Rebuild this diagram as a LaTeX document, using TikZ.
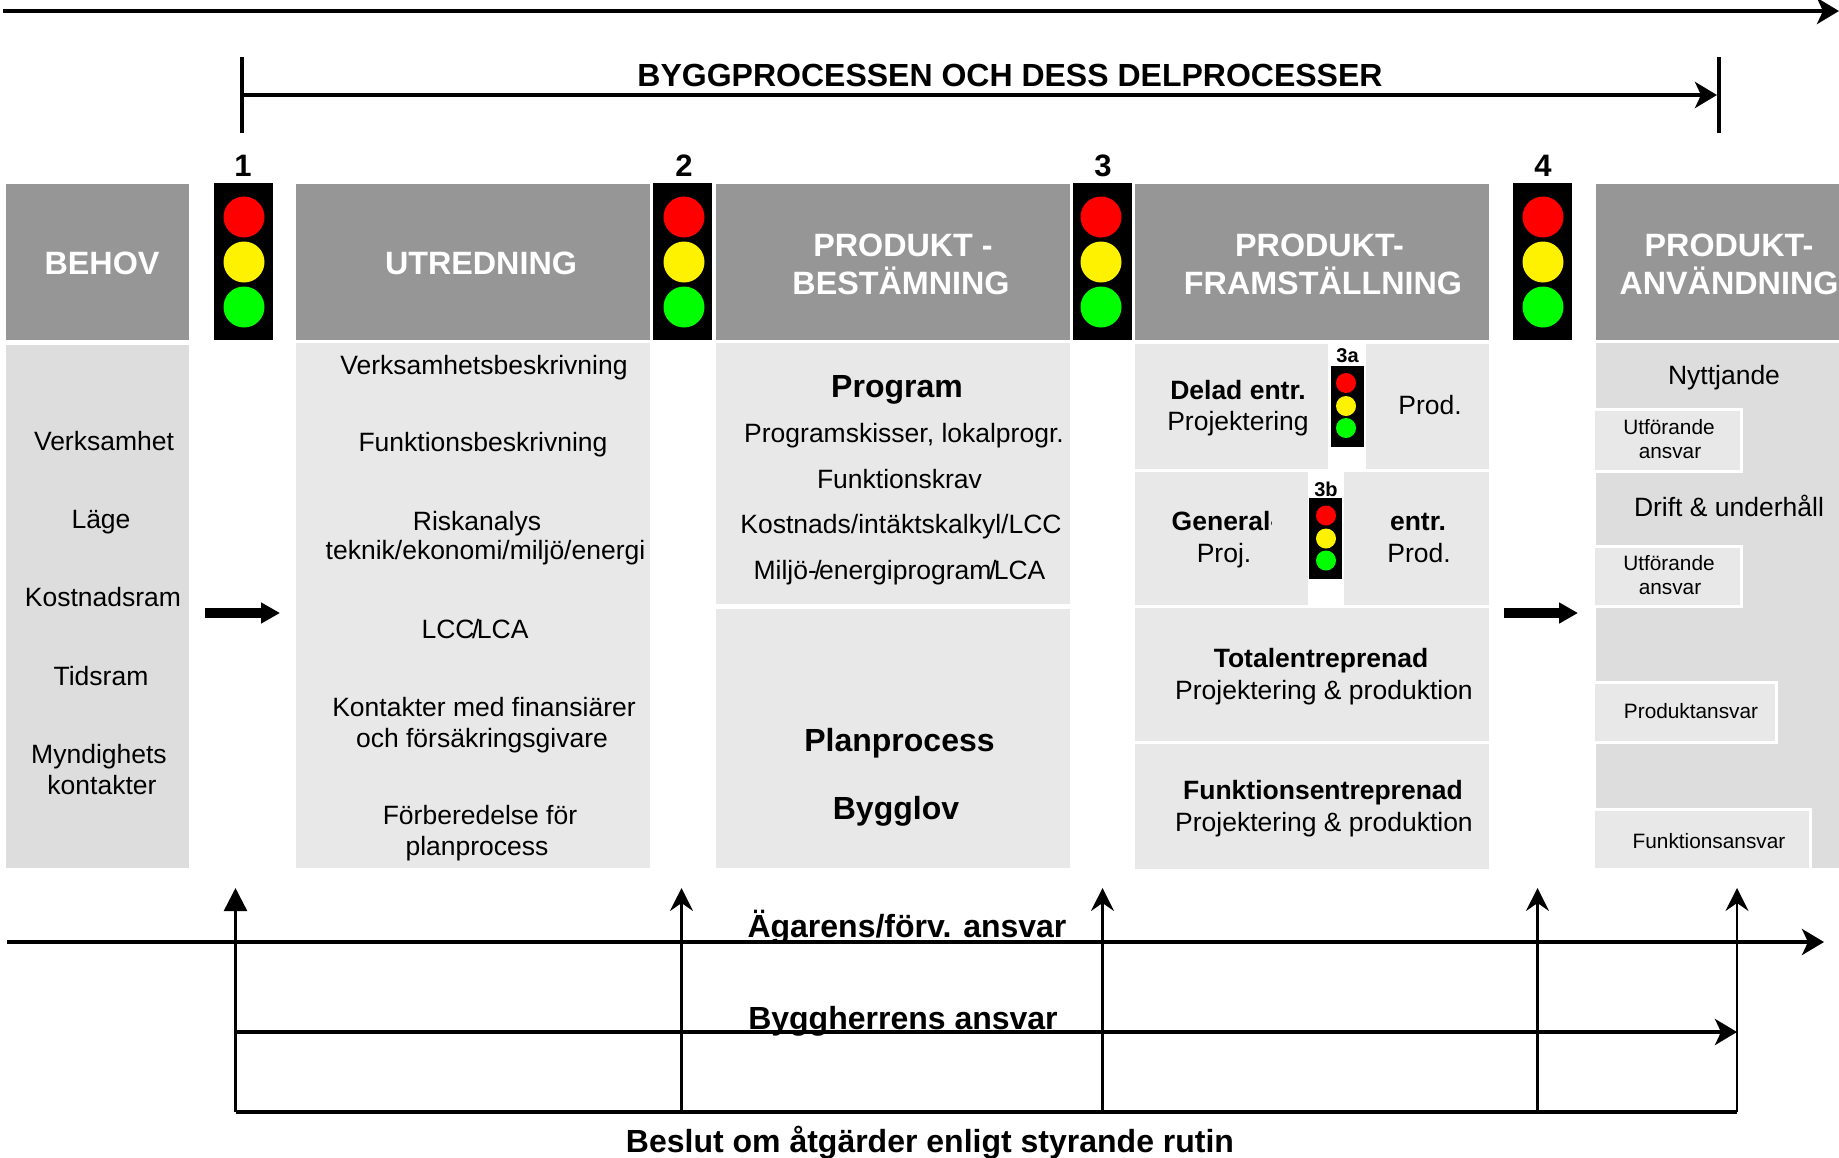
\documentclass[tikz,border=0pt]{standalone}
\usepackage{fontspec}
\setmainfont{Liberation Sans}
\usetikzlibrary{arrows.meta}
\definecolor{headgrey}{HTML}{969696}
\definecolor{darkpanel}{HTML}{DDDDDD}
\definecolor{lightpanel}{HTML}{E8E8E8}
\def\bigf{\fontsize{32.3}{38}\selectfont\bfseries}
\def\midf{\fontsize{26.5}{31}\selectfont}
\def\smallf{\fontsize{20.8}{25}\selectfont}
\def\tsl{\kern-2.5pt\slash\kern-2.5pt}
\tikzstyle{box} = [rectangle, inner sep=0pt, outer sep=0pt]
\tikzstyle{header} = [box, fill=headgrey]
\tikzstyle{lamp} = [box, fill=black]
\tikzstyle{whitebox} = [box, fill=lightpanel, draw=white, line width=3pt]
\tikzstyle{lab} = [inner sep=0pt, text depth=0pt]
\tikzstyle{headlab} = [lab, text height=22.4pt, text=white, font=\bigf]
\tikzstyle{title} = [lab, text height=22.4pt, font=\fontsize{32}{37}\selectfont\bfseries]
\tikzstyle{plain} = [lab, text height=17.6pt, font=\midf]
\tikzstyle{strong} = [lab, text height=17.6pt, font=\midf\bfseries]
\tikzstyle{small} = [lab, text height=14pt, font=\smallf]
\tikzstyle{num} = [lab, text height=22.4pt, font=\fontsize{31}{36}\selectfont\bfseries]
\tikzstyle{subnum} = [lab, text height=14pt, font=\fontsize{20}{24}\selectfont\bfseries]
\tikzstyle{bar} = [line width=4pt]
\tikzstyle{rise} = [line width=2.5pt, -{Stealth[length=23pt,width=23pt,inset=8pt]}]
\tikzstyle{risefull} = [line width=2.5pt, -{Triangle[length=23pt,width=23pt]}]
\tikzstyle{run} = [line width=4pt, -{Stealth[length=22pt,width=26pt,inset=6pt]}]
\tikzstyle{fat} = [line width=9.5pt, -{Triangle[length=19pt,width=20pt]}]

\begin{document}
\begin{tikzpicture}[x=1pt,y=-1pt]
  \useasboundingbox (0,0) rectangle (1839,1157);

  % column heads and the panels below them
  \foreach \x/\w/\n in {97.5/183/behov,473/354/utred,893/354/best,1312/354/fram,1717.5/243/anv}{
    \node[header, minimum width=\w pt, minimum height=156pt] (h\n) at (\x,261.5) {};
  }
  \node[box, fill=darkpanel, minimum width=183pt, minimum height=523pt] (pbehov) at (97.5,606.5) {};
  \node[box, fill=lightpanel, minimum width=354pt, minimum height=525pt] (putred) at (473,605.5) {};
  \node[box, fill=lightpanel, minimum width=354pt, minimum height=261pt] (pprog) at (893,473.5) {};
  \node[box, fill=lightpanel, minimum width=354pt, minimum height=259pt] (pplan) at (893,738.5) {};
  \node[box, fill=lightpanel, minimum width=193pt, minimum height=125pt] (pdela) at (1231.5,406) {};
  \node[box, fill=lightpanel, minimum width=123pt, minimum height=125pt] (pdelb) at (1427.5,406) {};
  \node[box, fill=lightpanel, minimum width=173pt, minimum height=133pt] (pgena) at (1221.5,538.5) {};
  \node[box, fill=lightpanel, minimum width=145pt, minimum height=133pt] (pgenb) at (1416.5,538.5) {};
  \node[box, fill=lightpanel, minimum width=354pt, minimum height=133pt] (ptot) at (1312,674.5) {};
  \node[box, fill=lightpanel, minimum width=354pt, minimum height=125pt] (pfunk) at (1312,806.5) {};
  \node[box, fill=darkpanel, minimum width=243pt, minimum height=525pt] (panv) at (1717.5,605.5) {};

  \node[whitebox, minimum width=148pt, minimum height=62pt] (w1) at (1667,440) {};
  \node[whitebox, minimum width=148pt, minimum height=60pt] (w2) at (1667,576) {};
  \node[whitebox, minimum width=183pt, minimum height=60pt] (w3) at (1684.5,712) {};
  \node[whitebox, minimum width=217pt, minimum height=60pt] (w4) at (1701.5,839) {};

  % traffic lights
  \foreach \x/\c/\n/\m in {243/244/1/243,682.5/684/2/684,1102/1101/3/1103,1542.5/1543/4/1543}{
    \node[lamp, minimum width=59pt, minimum height=157pt] (lamp\n) at (\x,261.5) {};
    \node[num] (num\n) at (\m,165) {\n};
    \foreach \y/\col in {217/red,262/yellow,307/green}{
      \node[circle, inner sep=0pt, minimum size=41pt, fill=\col] (\col\n) at (\c,\y) {};
    }
  }
  \foreach \x/\y/\c/\t/\lx/\ly in {1347.5/406/1346/a/1347.5/355,1325/538.5/1326/b/1326/489}{
    \node[lamp, minimum width=33pt, minimum height=81pt] (lamp\t) at (\x,\y) {};
    \node[subnum] (num\t) at (\lx,\ly) {3\t};
    \foreach \d/\col in {-23/red,0/yellow,22/green}{
      \node[circle, inner sep=0pt, minimum size=20pt, fill=\col] (\col\t) at (\c,\y+\d) {};
    }
  }

  % head texts
  \foreach \x/\y/\i/\t in {102/263/1/BEHOV,481/263/2/UTREDNING,903/245/3/PRODUKT -,901/283/4/BESTÄMNING,1319.5/245/5/PRODUKT-,1323/283/6/FRAMSTÄLLNING,1729/245/7/PRODUKT-,1729/283/8/ANVÄNDNING}{
    \node[headlab] (ht\i) at (\x,\y) {\t};
  }

  % panel texts
  \foreach \x/\y/\i/\t in {104/442/1/Verksamhet,101/520/2/Läge,103/598/3/Kostnadsram,101/677/4/Tidsram,99/755/5/Myndighets,102/786/6/kontakter,
    484/366/7/Verksamhetsbeskrivning,483/443/8/Funktionsbeskrivning,477/522/9/Riskanalys,485.5/551/10/teknik\slash ekonomi\slash miljö\slash energi,475/630/11/LCC\tsl LCA,484/708/12/Kontakter med finansiärer,482/739/13/och försäkringsgivare,480/816/14/Förberedelse för,477/847/15/planprocess,
    904/434/16/{Programskisser, lokalprogr.},899.5/480/17/Funktionskrav,901/525/18/Kostnads\slash intäktskalkyl\slash LCC,899.5/571/19/Miljö-\tsl energiprogram\tsl LCA,
    1238/422/20/Projektering,1430/406/21/Prod.,1224/554/22/Proj.,1419/554/23/Prod.,1324/691/24/Projektering \& produktion,1324/823/25/Projektering \& produktion,
    1724/376/26/Nyttjande,1729/508/27/Drift \& underhåll}{
    \node[plain] (pt\i) at (\x,\y) {\t};
  }
  \foreach \x/\y/\i/\t in {1238/390.5/1/Delad entr.,1418/522/2/entr.,1321/659/3/Totalentreprenad,1323/790.5/4/Funktionsentreprenad}{
    \node[strong] (st\i) at (\x,\y) {\t};
  }
  \begin{scope}
    \clip (1135,472) rectangle (1271,605);
    \node[strong, anchor=west] (st5) at (1171.5,522) {General-};
  \end{scope}
  \foreach \x/\y/\i/\t in {897/386/1/Program,899.5/740/2/Planprocess,896/808/3/Bygglov}{
    \node[title] (tt\i) at (\x,\y) {\t};
  }
  \foreach \x/\y/\i/\t in {1669/427/1/Utförande,1670/451/2/ansvar,1669/563/3/Utförande,1670/587/4/ansvar,1691/711/5/Produktansvar,1709/841/6/Funktionsansvar}{
    \node[small] (sm\i) at (\x,\y) {\t};
  }

  % flow arrows between the columns
  \coordinate (fa1) at (205,613);
  \coordinate (fb1) at (280,613);
  \coordinate (fa2) at (1504,613);
  \coordinate (fb2) at (1578,613);
  \draw [fat] (fa1) -- (fb1);
  \draw [fat] (fa2) -- (fb2);

  % top lines
  \coordinate (topa) at (3,11);
  \coordinate (topb) at (1839,11);
  \draw [run] (topa) -- (topb);
  \coordinate (ba) at (241.5,57);
  \coordinate (bb) at (241.5,133);
  \coordinate (ca) at (1719,57);
  \coordinate (cb) at (1719,133);
  \coordinate (pa) at (241.5,95);
  \coordinate (pb) at (1717,95);
  \draw [bar] (ba) -- (bb);
  \draw [bar] (ca) -- (cb);
  \draw [run] (pa) -- (pb);
  \node[title] (byggt) at (1010,75) {BYGGPROCESSEN OCH DESS DELPROCESSER};

  % bottom rail
  \coordinate (ra) at (235.5,1112);
  \coordinate (rb) at (1737,1112);
  \draw [bar] (ra) -- (rb);
  \foreach \x/\n in {681.5/2,1102.5/3,1537.5/4,1737/5}{
    \coordinate (up\n) at (\x,888);
    \coordinate (dn\n) at (\x,1112);
    \draw [rise] (dn\n) -- (up\n);
  }
  \coordinate (up1) at (235.5,888);
  \coordinate (dn1) at (235.5,1112);
  \draw [risefull] (dn1) -- (up1);
  \coordinate (oa) at (7,942);
  \coordinate (ob) at (1824,942);
  \draw [run] (oa) -- (ob);
  \coordinate (ga) at (235.5,1032);
  \coordinate (gb) at (1737,1032);
  \draw [run] (ga) -- (gb);

  \node[title] (agt) at (907,926) {Ägarens/förv. ansvar};
  \node[title] (hert) at (903,1018) {Byggherrens ansvar};
  \node[title] (bes) at (930,1141) {Beslut om åtgärder enligt styrande rutin};
\end{tikzpicture}
\end{document}
